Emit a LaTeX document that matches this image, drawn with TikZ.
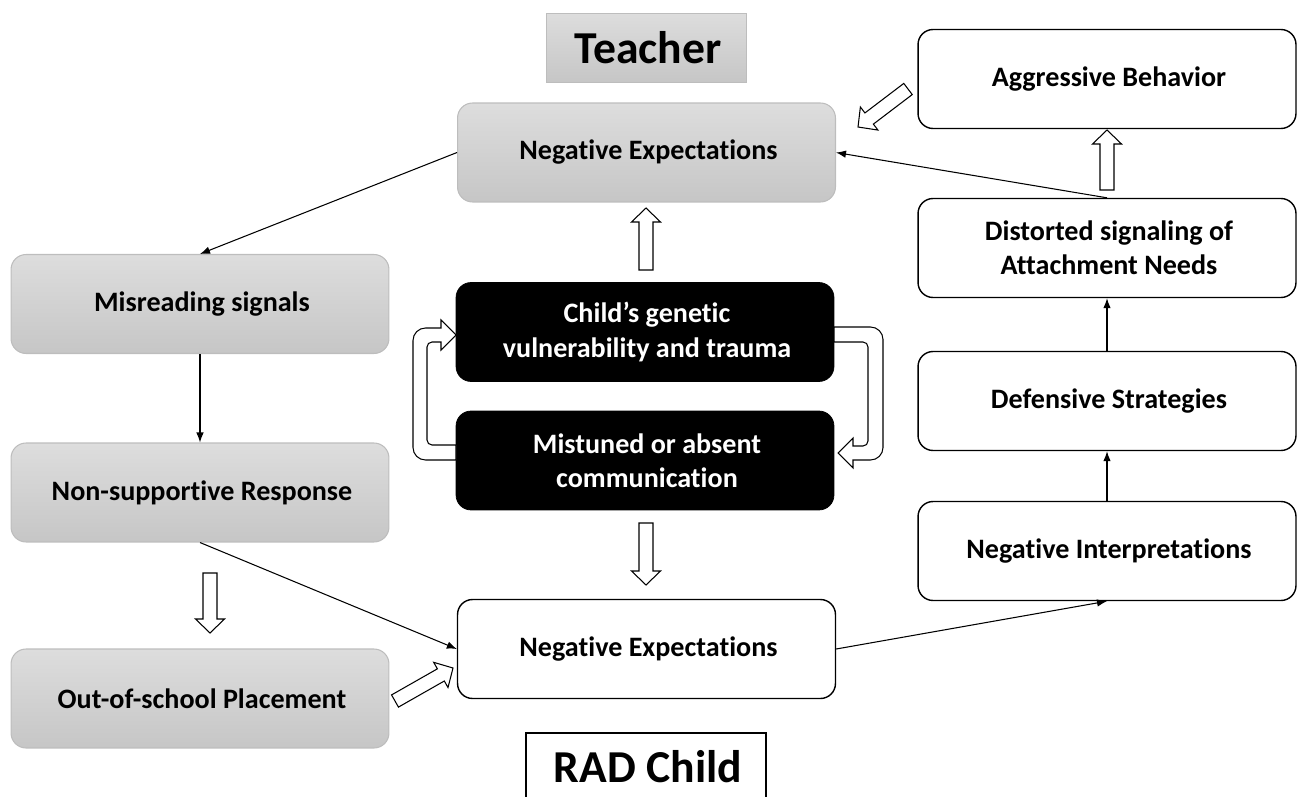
\documentclass[tikz,border=0pt]{standalone}
\usepackage{fontspec}
\setmainfont{Carlito}[Ligatures=NoCommon]
\usetikzlibrary{calc,arrows.meta}
\definecolor{boxtop}{HTML}{DDDDDD}
\definecolor{boxbot}{HTML}{C6C6C6}
\definecolor{boxedge}{HTML}{BDBDBD}
\begin{document}
\begin{tikzpicture}[x=0.02cm,y=-0.02cm,
	box/.style={rounded corners=0.3cm, minimum width=7.56cm, minimum height=1.98cm, align=center, font=\myfontbox},
	graybox/.style={box, top color=boxtop, bottom color=boxbot, draw=boxedge, line width=0.6pt},
	whitebox/.style={box, fill=white, draw=black, line width=0.8pt},
	blackbox/.style={box, fill=black, draw=black, text=white},
	titlebox/.style={font=\mytitle},
	line/.style={draw, line width=0.6pt, -{Latex[length=2mm,width=1.5mm]}},
	hollow/.style={draw, fill=white, line width=0.6pt, line join=miter, to path={
		($(\tikztostart)!0.14cm!-90:(\tikztotarget)$)
		-- ($(\tikztotarget)!0.28cm!(\tikztostart)!0.14cm!90:(\tikztostart)$)
		-- ($(\tikztotarget)!0.28cm!(\tikztostart)!0.29cm!90:(\tikztostart)$)
		-- (\tikztotarget)
		-- ($(\tikztotarget)!0.28cm!(\tikztostart)!0.29cm!-90:(\tikztostart)$)
		-- ($(\tikztotarget)!0.28cm!(\tikztostart)!0.14cm!-90:(\tikztostart)$)
		-- ($(\tikztostart)!0.14cm!90:(\tikztotarget)$)
		-- cycle}}]
	\newcommand{\myfontbox}{
		\bfseries\fontsize{16}{19.4}\selectfont
	}\newcommand{\mytitle}{
		\bfseries\fontsize{26}{30}\selectfont
	}%Page frame
	\useasboundingbox (0,0) rectangle (1297,797);
	\clip (0,0) rectangle (1297,797);
	%Teacher column
	\coordinate (cTeacher) at (646,47.5);
	\coordinate (cNegT) at (646.5,152.5);
	\node [titlebox, minimum width=4cm, minimum height=1.38cm, top color=boxtop, bottom color=boxbot, draw=boxedge] (teacher) at (cTeacher) {Teacher};
	\node [graybox] (negT) at (cNegT) {Negative Expectations};
	%Left column
	\coordinate (cMisread) at (200,304);
	\coordinate (cNonsup) at (200,492.5);
	\coordinate (cOutsch) at (200,698.5);
	\node [graybox] (misread) at (cMisread) {Misreading signals};
	\node [graybox] (nonsup) at (cNonsup) {Non-supportive Response};
	\node [graybox] (outsch) at (cOutsch) {Out-of-school Placement};
	%The core
	\coordinate (cGene) at (645,332);
	\coordinate (cMistune) at (645,460.5);
	\node [blackbox] (gene) at (cGene) {Child’s genetic\\vulnerability and trauma};
	\node [blackbox] (mistune) at (cMistune) {Mistuned or absent\\communication};
	%Child column
	\coordinate (cNegC) at (646.5,649);
	\coordinate (cRad) at (646,767);
	\node [whitebox] (negC) at (cNegC) {Negative Expectations};
	\node [titlebox, minimum width=4.8cm, minimum height=1.36cm, draw=black, line width=0.8pt, fill=white] (rad) at (cRad) {RAD Child};
	%Right column
	\coordinate (cAggr) at (1107,79);
	\coordinate (cDistort) at (1107,248);
	\coordinate (cDefens) at (1107,401);
	\coordinate (cInterp) at (1107,551);
	\node [whitebox] (aggr) at (cAggr) {Aggressive Behavior};
	\node [whitebox] (distort) at (cDistort) {Distorted signaling of\\Attachment Needs};
	\node [whitebox] (defens) at (cDefens) {Defensive Strategies};
	\node [whitebox] (interp) at (cInterp) {Negative Interpretations};
	%Thin arrows
	\path [line] (negT.west) -- (misread.north);
	\path [line] (misread.south) -- (nonsup.north);
	\path [line] (nonsup.south) -- (negC.west);
	\path [line] (negC.east) -- (interp.south);
	\path [line] (interp.north) -- (defens.south);
	\path [line] (defens.north) -- (distort.south);
	\path [line] (distort.north) -- (negT.east);
	%Hollow arrows
	\coordinate (h1s) at (210,573);
	\coordinate (h1e) at (210,633);
	\coordinate (h2s) at (395,701);
	\coordinate (h2e) at (453,668);
	\coordinate (h3s) at (1107,190);
	\coordinate (h3e) at (1107,130);
	\coordinate (h4s) at (908,89);
	\coordinate (h4e) at (858,127);
	\coordinate (h5s) at (646,270);
	\coordinate (h5e) at (646,208);
	\coordinate (h6s) at (646,523);
	\coordinate (h6e) at (646,585);
	\draw [hollow] (h1s) to (h1e);
	\draw [hollow] (h2s) to (h2e);
	\draw [hollow] (h3s) to (h3e);
	\draw [hollow] (h4s) to (h4e);
	\draw [hollow] (h5s) to (h5e);
	\draw [hollow] (h6s) to (h6e);
	%Loop between the two core boxes
	\draw [fill=white, line width=0.6pt] (456,460) [rounded corners=0.25cm] -- (413,460) -- (413,328) [sharp corners] -- (441,328) -- (441,320) -- (456,335) -- (441,350) -- (441,342) [rounded corners=0.1cm] -- (427,342) -- (427,445) [sharp corners] -- (456,445) -- cycle;
	\draw [fill=white, line width=0.6pt] (834,327) [rounded corners=0.25cm] -- (883,327) -- (883,460) [sharp corners] -- (853,460) -- (853,468) -- (838,453) -- (853,438) -- (853,446) [rounded corners=0.1cm] -- (868,446) -- (868,342) [sharp corners] -- (834,342) -- cycle;
\end{tikzpicture}
\end{document}
